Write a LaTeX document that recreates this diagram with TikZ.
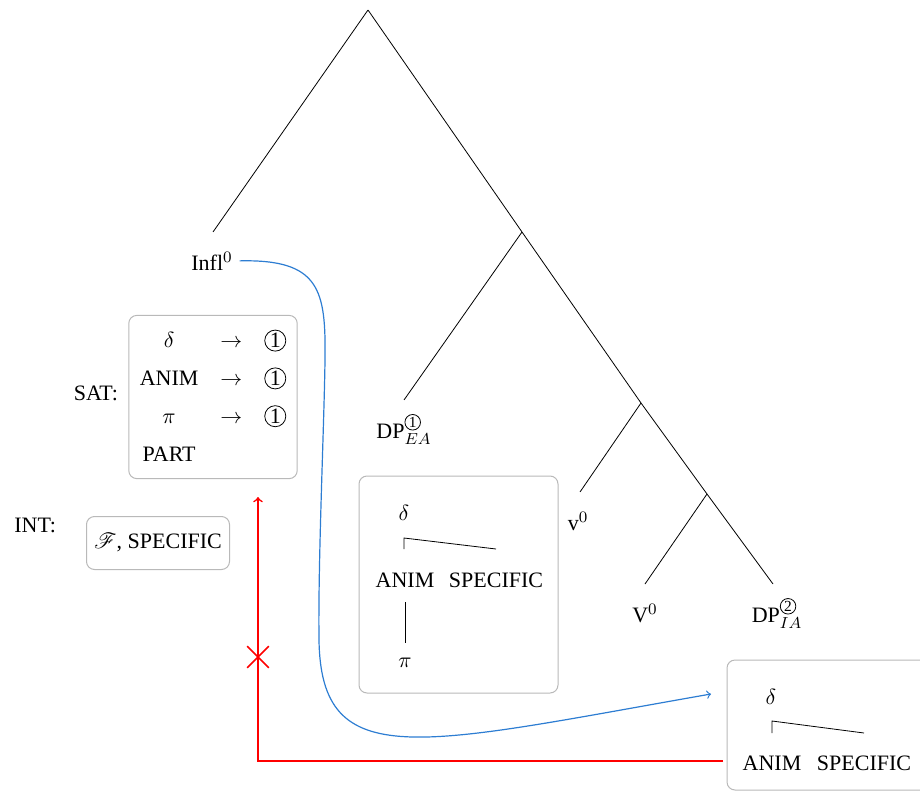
\documentclass[tikz,border=0pt]{standalone}
\usepackage{fontspec}
\setmainfont{Liberation Serif}
\usepackage{amsmath}
\usepackage{mathrsfs}
\usetikzlibrary{shapes.misc}

\definecolor{moveblue}{RGB}{45,125,210}
\definecolor{boxgray}{RGB}{185,185,185}

\newcommand{\circnum}[1]{\tikz[baseline=(cn.base)]\node[draw, circle, inner sep=0.5pt, line width=0.4pt] (cn) {#1};}

\tikzset{
  featbox/.style={draw=boxgray, rounded corners=4pt, line width=0.5pt},
  treelbl/.style={anchor=base},
  moveline/.style={->, draw=moveblue, line width=0.6pt},
  blockline/.style={->, draw=red, line width=0.8pt},
}

\begin{document}
\begin{tikzpicture}[x=0.5pt, y=-0.5pt, font=\fontsize{11}{13.5}\selectfont]

        \useasboundingbox (0,0) rectangle (920,792);

        \coordinate (root) at (368,10);
        \coordinate (inflend) at (213,232);
        \coordinate (tbar) at (522,232);
        \coordinate (dpeaend) at (404,400);
        \coordinate (vbar) at (641,403);
        \coordinate (vend) at (580,492);
        \coordinate (Vbar) at (707,494);
        \coordinate (Vend) at (645,584);
        \coordinate (dpiaend) at (773,584);

        \draw (root) -- (inflend);
        \draw (root) -- (tbar) -- (vbar) -- (Vbar) -- (dpiaend);
        \draw (tbar) -- (dpeaend);
        \draw (vbar) -- (vend);
        \draw (Vbar) -- (Vend);

        \node[treelbl] (infl) at (212,270) {Infl$^0$};
        \node[treelbl] (dpea) at (404,438) {DP$^{\text{\circnum{1}}}_{EA}$};
        \node[treelbl] (vlab) at (578,530) {v$^0$};
        \node[treelbl] (Vlab) at (645,622) {V$^0$};
        \node[treelbl] (dpia) at (777,622) {DP$^{\text{\circnum{2}}}_{IA}$};

        \node[featbox, inner xsep=0pt, inner ysep=3pt] (satbox) at (213,397) {%
          \setlength{\tabcolsep}{5.5pt}\renewcommand{\arraystretch}{1.4}%
          \begin{tabular}{ccc}
            $\delta$ & $\rightarrow$ & \circnum{1} \\
            ANIM & $\rightarrow$ & \circnum{1} \\
            $\pi$ & $\rightarrow$ & \circnum{1} \\
            PART & & \\
          \end{tabular}};
        \node[anchor=east] (satlbl) at (125,393) {SAT:};

        \node[anchor=west, inner sep=0pt] (intlbl) at (14,525) {INT:};
        \node[featbox, minimum width=71.5pt, minimum height=26.5pt, inner sep=2pt] (intbox) at (158,543) {$\mathscr{F}$, SPECIFIC};

        \draw[featbox] (359,476) rectangle (558,693);
        \node (mdelta) at (404,513) {$\delta$};
        \node (manim) at (405,580) {ANIM};
        \node (mspec) at (496,580) {SPECIFIC};
        \node (mpi) at (405,663) {$\pi$};
        \draw (404,549) -- (404,538) -- (496,549);
        \draw[shorten >=4pt, shorten <=4pt] (manim) -- (mpi);

        \draw[featbox] (727,660) rectangle (960,790);
        \node (bdelta) at (771,697) {$\delta$};
        \node (banim) at (772,763) {ANIM};
        \node (bspec) at (864,763) {SPECIFIC};
        \draw (772,733) -- (772,721) -- (864,733);

        \coordinate (moveend) at (711,694);
        \draw[moveline] (infl.east) .. controls (320,259) and (326,290) .. (325,360)
          .. controls (324,430) and (318,560) .. (319,640)
          .. controls (321,775) and (420,745) .. (moveend);

        \coordinate (blockstart) at (723,761);
        \coordinate (blockcorner) at (258,761);
        \draw[blockline, shorten >=9pt] (blockstart) -- (blockcorner) -- (satbox.south -| blockcorner);
        \node[cross out, draw=red, line width=0.8pt, minimum size=10pt, inner sep=0pt] (block) at (258,657) {};

      \end{tikzpicture}
\end{document}
